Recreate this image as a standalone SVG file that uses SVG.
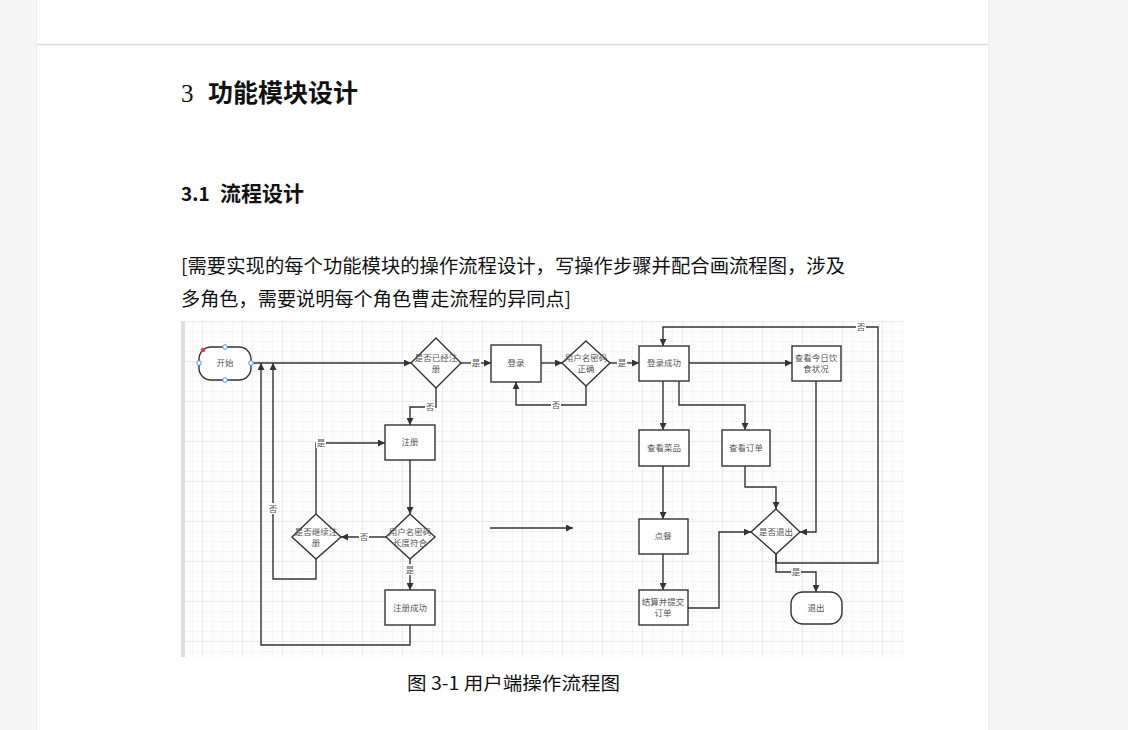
<svg xmlns="http://www.w3.org/2000/svg" width="1128" height="730" viewBox="0 0 1128 730">
<defs>
<style>
.cn{font-family:"Noto Sans CJK SC","Noto Sans",sans-serif;}
.h1{font-size:25px;font-weight:bold;fill:#111;}
.h2{font-size:21px;font-weight:bold;fill:#111;}
.body{font-size:19px;fill:#111;}
.cap{font-size:18px;fill:#111;}
.nd{fill:#fff;stroke:#333;stroke-width:1.4;}
.t{font-family:"Noto Sans CJK SC","Noto Sans",sans-serif;font-size:8.5px;fill:#555;text-anchor:middle;}
.e{fill:none;stroke:#333;stroke-width:1.4;}
.ea{fill:none;stroke:#333;stroke-width:1.4;marker-end:url(#ah);}
.lb{fill:#fff;}
</style>
<marker id="ah" viewBox="0 0 10 10" refX="10" refY="5" markerWidth="7" markerHeight="7" markerUnits="userSpaceOnUse" orient="auto">
<path d="M0,0 L10,5 L0,10 Z" fill="#333"/>
</marker>
<pattern id="gmin" x="3" y="2" width="10" height="10" patternUnits="userSpaceOnUse">
<path d="M10,0 V10 M0,10 H10" fill="none" stroke="#ededf1" stroke-width="1"/>
</pattern>
<pattern id="gmaj" x="3" y="2" width="40" height="40" patternUnits="userSpaceOnUse">
<path d="M40,0 V40 M0,40 H40" fill="none" stroke="#e0e0e5" stroke-width="1"/>
</pattern>
</defs>
<rect x="0" y="0" width="1128" height="730" fill="#f5f5f5"/>
<rect x="36" y="0" width="953" height="730" fill="#ffffff"/>
<line x1="36" y1="44.5" x2="989" y2="44.5" stroke="#dcdcdc" stroke-width="1.5"/>
<line x1="36.5" y1="0" x2="36.5" y2="730" stroke="#ececec" stroke-width="1"/>
<line x1="988.5" y1="0" x2="988.5" y2="730" stroke="#ececec" stroke-width="1"/>

<g id="heading">
<text x="181" y="102" class="cn h1"><tspan font-weight="normal" font-family="Liberation Serif, serif">3</tspan><tspan x="208">功能模块设计</tspan></text>
<text x="181" y="201" class="cn h2"><tspan font-size="19px">3.1</tspan><tspan x="220">流程设计</tspan></text>
<text x="181" y="273" class="cn body" textLength="664" lengthAdjust="spacingAndGlyphs">[需要实现的每个功能模块的操作流程设计，写操作步骤并配合画流程图，涉及</text>
<text x="181" y="306" class="cn body" textLength="390" lengthAdjust="spacingAndGlyphs">多角色，需要说明每个角色曹走流程的异同点]</text>
<text x="407" y="690" class="cn cap" textLength="213" lengthAdjust="spacingAndGlyphs">图 3-1  用户端操作流程图</text>
</g>

<g id="canvas">
<rect x="181" y="321" width="722" height="336" fill="#fdfdfd"/>
<rect x="181" y="321" width="722" height="336" fill="url(#gmin)"/>
<rect x="181" y="321" width="722" height="336" fill="url(#gmaj)"/>
<rect x="181" y="321" width="4" height="336" fill="#dedede"/>
</g>

<g id="connectors">
<path class="ea" d="M251,363 H411"/>
<path class="ea" d="M461,363 H491"/>
<path class="ea" d="M541,363 H562"/>
<path class="ea" d="M586,386 V405 H516 V382"/>
<path class="ea" d="M610,363 H639"/>
<path class="ea" d="M689,363 H792"/>
<path class="ea" d="M663,381 V430"/>
<path class="ea" d="M679,381 V405 H745 V430"/>
<path class="ea" d="M745,466 V487 H776 V509"/>
<path class="ea" d="M816,381 V532 H800"/>
<path class="ea" d="M776,554 V563 H878 V327 H663 V346"/>
<path class="ea" d="M776,554 V572 H816 V592"/>
<path class="ea" d="M663,466 V519"/>
<path class="ea" d="M663,554 V590"/>
<path class="ea" d="M688,608 H719 V532 H751"/>
<path class="ea" d="M490,528 H573"/>
<path class="ea" d="M436,388 V407 H410 V425"/>
<path class="ea" d="M410,460 V514"/>
<path class="ea" d="M386,537 H341"/>
<path class="ea" d="M410,559 V590"/>
<path class="ea" d="M410,625 V645 H261 V363"/>
<path class="ea" d="M316,514 V443 H385"/>
<path class="ea" d="M316,559 V579 H273 V363"/>
<rect class="lb" x="471" y="357" width="10" height="11"/><text class="t" x="476" y="366">是</text>
<rect class="lb" x="551" y="399" width="10" height="11"/><text class="t" x="556" y="408">否</text>
<rect class="lb" x="617" y="357" width="10" height="11"/><text class="t" x="622" y="366">是</text>
<rect class="lb" x="856" y="322" width="10" height="10"/><text class="t" x="861" y="330">否</text>
<rect class="lb" x="791" y="567" width="10" height="10"/><text class="t" x="796" y="575">是</text>
<rect class="lb" x="425" y="401" width="10" height="11"/><text class="t" x="430" y="410">否</text>
<rect class="lb" x="359" y="531" width="10" height="11"/><text class="t" x="364" y="540">否</text>
<rect class="lb" x="405" y="564" width="10" height="11"/><text class="t" x="410" y="573">是</text>
<rect class="lb" x="316" y="437" width="10" height="11"/><text class="t" x="321" y="446">是</text>
<rect class="lb" x="268" y="503" width="10" height="11"/><text class="t" x="273" y="512">否</text>
</g>

<g id="start">
<rect class="nd" x="199" y="347" width="52" height="33" rx="12"/>
<text class="t" x="225" y="366">开始</text>
<circle cx="225" cy="347" r="2.3" fill="#fff" stroke="#4a90e2" stroke-width="1"/>
<circle cx="225" cy="380" r="2.3" fill="#fff" stroke="#4a90e2" stroke-width="1"/>
<circle cx="199" cy="363" r="2.3" fill="#fff" stroke="#4a90e2" stroke-width="1"/>
<circle cx="251" cy="363" r="2.3" fill="#fff" stroke="#4a90e2" stroke-width="1"/>
<circle cx="203" cy="350" r="2.3" fill="#e0404a"/>
</g>
<g id="d-registered">
<polygon class="nd" points="436,338 461,363 436,388 411,363"/>
<text class="t" x="436" y="361">是否已经注</text><text class="t" x="436" y="372">册</text>
</g>
<g id="login">
<rect class="nd" x="491" y="345" width="50" height="37"/>
<text class="t" x="516" y="366">登录</text>
</g>
<g id="d-pwd">
<polygon class="nd" points="586,341 610,363 586,386 562,363"/>
<text class="t" x="586" y="361">用户名密码</text><text class="t" x="586" y="372">正确</text>
</g>
<g id="login-ok">
<rect class="nd" x="639" y="346" width="50" height="35"/>
<text class="t" x="664" y="366">登录成功</text>
</g>
<g id="diet">
<rect class="nd" x="792" y="346" width="49" height="35"/>
<text class="t" x="816" y="361">查看今日饮</text><text class="t" x="816" y="372">食状况</text>
</g>
<g id="dishes">
<rect class="nd" x="639" y="430" width="50" height="36"/>
<text class="t" x="664" y="451">查看菜品</text>
</g>
<g id="orders">
<rect class="nd" x="722" y="430" width="48" height="36"/>
<text class="t" x="746" y="451">查看订单</text>
</g>
<g id="d-exit">
<polygon class="nd" points="776,509 800,532 776,554 751,532"/>
<text class="t" x="776" y="535">是否退出</text>
</g>
<g id="exit">
<rect class="nd" x="791" y="592" width="51" height="32" rx="12"/>
<text class="t" x="816" y="611">退出</text>
</g>
<g id="order">
<rect class="nd" x="639" y="519" width="49" height="35"/>
<text class="t" x="663" y="539">点餐</text>
</g>
<g id="checkout">
<rect class="nd" x="639" y="590" width="49" height="35"/>
<text class="t" x="663" y="605">结算并提交</text><text class="t" x="663" y="616">订单</text>
</g>
<g id="register">
<rect class="nd" x="385" y="425" width="50" height="35"/>
<text class="t" x="410" y="445">注册</text>
</g>
<g id="d-length">
<polygon class="nd" points="410,514 435,537 410,559 386,537"/>
<text class="t" x="410" y="535">用户名密码</text><text class="t" x="410" y="546">长度符合</text>
</g>
<g id="d-continue">
<polygon class="nd" points="316,514 341,537 316,559 292,537"/>
<text class="t" x="316" y="535">是否继续注</text><text class="t" x="316" y="546">册</text>
</g>
<g id="reg-ok">
<rect class="nd" x="385" y="590" width="50" height="35"/>
<text class="t" x="410" y="611">注册成功</text>
</g>
</svg>
